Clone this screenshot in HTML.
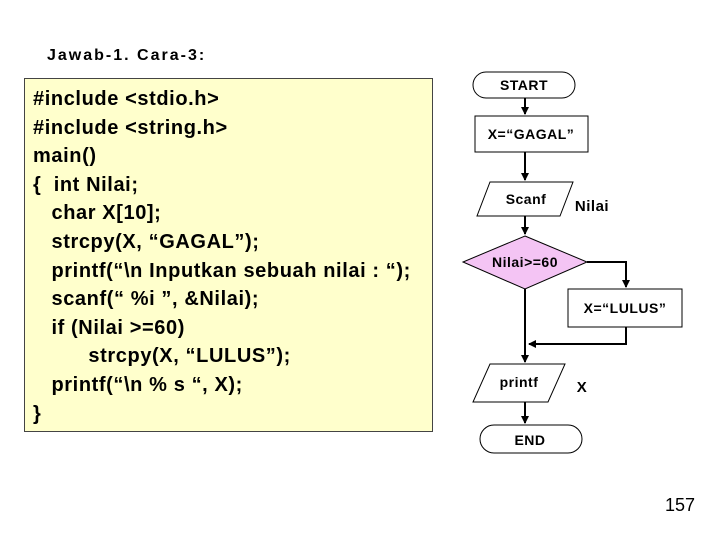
<!DOCTYPE html>
<html><head><meta charset="utf-8"><style>
body{margin:0;width:720px;height:540px;background:#fff;position:relative;overflow:hidden;font-family:"Liberation Sans",sans-serif;}
.t{position:absolute;font-weight:bold;white-space:pre;}
#code{position:absolute;left:24px;top:78px;width:407px;height:352px;background:#ffffcc;border:1px solid #444;}
#code div{position:absolute;left:8px;font-size:20px;letter-spacing:0.6px;font-weight:bold;white-space:pre;line-height:22px;}
</style></head><body>
<div class="t" style="left:47px;top:47px;font-size:16px;letter-spacing:2px;">Jawab-1. Cara-3:</div>
<div id="code">
<div style="top:9px">#include &lt;stdio.h&gt;</div>
<div style="top:38px">#include &lt;string.h&gt;</div>
<div style="top:66px">main()</div>
<div style="top:95px">{  int Nilai;</div>
<div style="top:123px">   char X[10];</div>
<div style="top:152px">   strcpy(X, “GAGAL”);</div>
<div style="top:181px">   printf(“\n Inputkan sebuah nilai : “);</div>
<div style="top:209px">   scanf(“ %i ”, &amp;Nilai);</div>
<div style="top:238px">   if (Nilai &gt;=60)</div>
<div style="top:266px">         strcpy(X, “LULUS”);</div>
<div style="top:295px">   printf(“\n % s “, X);</div>
<div style="top:324px">}</div>
</div>
<svg width="720" height="540" style="position:absolute;left:0;top:0" font-family="Liberation Sans, sans-serif" font-weight="bold">
<defs><marker id="a" markerWidth="8" markerHeight="8" refX="7" refY="4" orient="auto" markerUnits="userSpaceOnUse"><path d="M0,0 L8,4 L0,8z" fill="#000"/></marker></defs>
<g stroke="#000" stroke-width="1" fill="#fff">
<rect x="473" y="72" width="102" height="26" rx="13"/>
<rect x="475" y="116" width="113" height="36"/>
<polygon points="490,182 573,182 560,216 477,216"/>
<polygon points="525,236 587,262 525,289 463,262" fill="#f4c4f4"/>
<rect x="568" y="289" width="114" height="38"/>
<polygon points="490,364 565,364 548,402 473,402"/>
<rect x="480" y="425" width="102" height="28" rx="14"/>
</g>
<g stroke="#000" stroke-width="2" fill="none">
<line x1="525" y1="98" x2="525" y2="114" marker-end="url(#a)"/>
<line x1="525" y1="152" x2="525" y2="180" marker-end="url(#a)"/>
<line x1="525" y1="216" x2="525" y2="234" marker-end="url(#a)"/>
<polyline points="587,262 626,262 626,287" marker-end="url(#a)"/>
<line x1="525" y1="289" x2="525" y2="362" marker-end="url(#a)"/>
<polyline points="626,327 626,344 529,344" marker-end="url(#a)"/>
<line x1="525" y1="402" x2="525" y2="423" marker-end="url(#a)"/>
</g>
<g font-size="14" text-anchor="middle" fill="#000" letter-spacing="0.5">
<text x="524" y="90">START</text>
<text x="531" y="139">X=“GAGAL”</text>
<text x="526" y="204">Scanf</text>
<text x="525" y="267">Nilai&gt;=60</text>
<text x="625" y="313">X=“LULUS”</text>
<text x="519" y="387">printf</text>
<text x="530" y="445">END</text>
<text x="592" y="211" font-size="15">Nilai</text>
<text x="582" y="392" font-size="15">X</text>
</g>
<text x="695" y="511" font-size="18" font-weight="normal" text-anchor="end">157</text>
</svg>
</body></html>
